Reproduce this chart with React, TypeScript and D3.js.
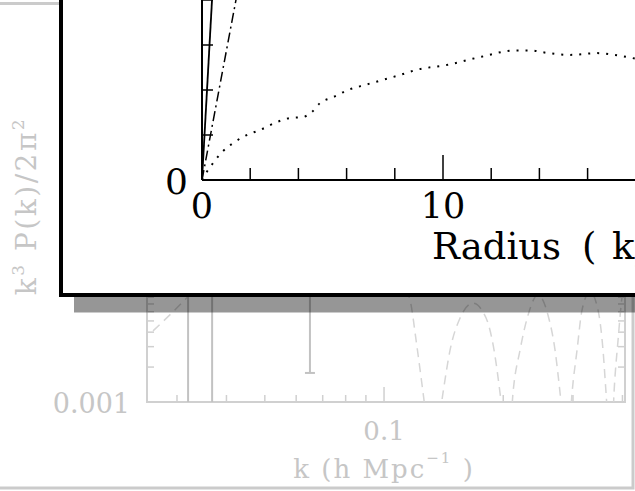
import React from 'react';
import * as d3 from 'd3';

const W = 635;
const H = 491;

// ---- background panel: power spectrum (log-log) ----
const kDomain = [0.0252, 0.406];
const pDomain = [0.001, 1];
const kMinorTicks = [0.03, 0.04, 0.05, 0.06, 0.07, 0.08, 0.09, 0.2, 0.3, 0.4];
const kMajorTicks = [0.1];
const kTickLabels = ['0.1'];
const pMinorTicks = [0.002, 0.003, 0.004, 0.005, 0.006, 0.007, 0.008, 0.009];
const pTickLabels = ['0.001'];
const modelK = [0.0261, 0.0314, 0.0343, 0.045, 0.06, 0.08, 0.1, 0.113, 0.1163, 0.1205, 0.1233, 0.1255, 0.133, 0.1409, 0.1468, 0.1556, 0.1677, 0.181, 0.1896, 0.1963, 0.2056, 0.2117, 0.2205, 0.231, 0.2448, 0.2595, 0.2703, 0.2783, 0.2898, 0.2984, 0.3072, 0.3162, 0.3313, 0.3471, 0.3573, 0.3636, 0.3743, 0.3809, 0.3899, 0.399, 0.4084];
const modelP = [0.0041, 0.0076, 0.0105, 0.02, 0.03, 0.03, 0.018, 0.0092, 0.0076, 0.0034, 0.0019, 0.0012, 0.0003, 0.0012, 0.0028, 0.0053, 0.0071, 0.0053, 0.0028, 0.0012, 0.0003, 0.0012, 0.0028, 0.0056, 0.0084, 0.0056, 0.0028, 0.0012, 0.0003, 0.0012, 0.0028, 0.0062, 0.0089, 0.0062, 0.0028, 0.0012, 0.0003, 0.0012, 0.0034, 0.008, 0.0113];
const limitK = [0.032, 0.0368];
const errK = [0.065];
const errLow = [0.00178];

// ---- inset: rotation curve ----
const radiusDomain = [0, 20];
const velDomain = [0, 200];
const radiusTicks = [0, 2, 4, 6, 8, 10, 12, 14, 16, 18, 20];
const radiusMajor = [0, 10, 20];
const radiusLabels = [0, 10];
const velTicks = [50, 100, 150, 200];
const dotR = [0, 0.12, 0.46, 0.83, 1.29, 1.78, 2.41, 3.11, 3.65, 4.19, 4.56, 4.9, 5.44, 6.06, 6.76, 7.47, 8.22, 8.84, 10.2, 11.6, 13.0, 13.6, 14.36, 15.27, 16.4, 17.1, 17.84, 18.6];
const dotV = [0, 5.6, 18.9, 31, 41, 49, 55.6, 64.4, 68.9, 70, 75.6, 85.6, 92, 100, 105.6, 111, 116.7, 122, 128, 137, 144, 144, 141, 139, 141, 139, 135.6, 131];
const solidR = [0, 0.457];
const solidV = [0, 220];
const dashDotR = [0, 1.55];
const dashDotV = [0, 220];

const SERIF = "'DejaVu Serif', serif";
const BG_AXIS = '#d0d0d0';
const BG_TEXT = '#c6c6c6';
const BG_LINE = '#c2c2c2';
const BG_DASH = '#d6d6d6';

export default function App() {
  const xB = d3.scaleLog().domain(kDomain).range([147, 625]);
  const yB = d3.scaleLog().domain(pDomain).range([402, 54]);
  const xI = d3.scaleLinear().domain(radiusDomain).range([202, 684]);
  const yI = d3.scaleLinear().domain(velDomain).range([180, 0]);

  const modelPath = d3
    .line<number>()
    .x((_, i) => xB(modelK[i]))
    .y((_, i) => yB(modelP[i]))
    .curve(d3.curveMonotoneX)(modelK) as string;

  const insetLine = (rs: number[], vs: number[], curve = d3.curveLinear) =>
    d3
      .line<number>()
      .x((_, i) => xI(rs[i]))
      .y((_, i) => yI(vs[i]))
      .curve(curve)(rs) as string;

  const bx0 = xB(kDomain[0]);
  const bx1 = xB(kDomain[1]);
  const by0 = yB(pDomain[0]);
  const by1 = yB(pDomain[1]);

  return (
    <svg
      width={W}
      height={H}
      style={{ position: 'absolute', left: 0, top: 0, display: 'block', background: '#fff' }}
    >
      <defs>
        <clipPath id="bgclip">
          <rect x={bx0} y={by1} width={bx1 - bx0} height={by0 - by1} />
        </clipPath>
      </defs>

      {/* outer slide frame */}
      <rect x={-20} y={3.5} width={653} height={484.5} fill="none" stroke="#cbcbcb" strokeWidth={3} />

      {/* background panel */}
      <g>
        <rect x={bx0} y={by1} width={bx1 - bx0} height={by0 - by1} fill="none" stroke={BG_AXIS} strokeWidth={2} />
        {kMinorTicks.map((k) => (
          <line key={'kt' + k} x1={xB(k)} x2={xB(k)} y1={by0} y2={by0 - 7} stroke={BG_AXIS} strokeWidth={1.5} />
        ))}
        {kMajorTicks.map((k) => (
          <line key={'kM' + k} x1={xB(k)} x2={xB(k)} y1={by0} y2={by0 - 15} stroke={BG_AXIS} strokeWidth={1.5} />
        ))}
        {pMinorTicks.map((p) => (
          <g key={'pt' + p}>
            <line x1={bx0} x2={bx0 + 7} y1={yB(p)} y2={yB(p)} stroke={BG_AXIS} strokeWidth={1.5} />
            <line x1={bx1} x2={bx1 - 7} y1={yB(p)} y2={yB(p)} stroke={BG_AXIS} strokeWidth={1.5} />
          </g>
        ))}
        <g clipPath="url(#bgclip)">
          <path d={modelPath} fill="none" stroke={BG_DASH} strokeWidth={1.5} strokeDasharray="9,6" />
          {limitK.map((k) => (
            <line key={'lim' + k} x1={xB(k)} x2={xB(k)} y1={by1} y2={by0} stroke={BG_LINE} strokeWidth={2} />
          ))}
          {errK.map((k, i) => (
            <g key={'err' + k}>
              <line x1={xB(k)} x2={xB(k)} y1={by1} y2={yB(errLow[i])} stroke={BG_LINE} strokeWidth={2} />
              <line x1={xB(k) - 5} x2={xB(k) + 5} y1={yB(errLow[i])} y2={yB(errLow[i])} stroke={BG_LINE} strokeWidth={2} />
            </g>
          ))}
        </g>
        {kMajorTicks.map((k, i) => (
          <text key={'kl' + k} x={xB(k)} y={440} textAnchor="middle" fontFamily={SERIF} fontSize={26} fill={BG_TEXT}>
            {kTickLabels[i]}
          </text>
        ))}
        <text x={bx0 - 17} y={413} textAnchor="end" fontFamily={SERIF} fontSize={27} fill={BG_TEXT}>
          {pTickLabels[0]}
        </text>
        <text x={xB(0.1)} y={478} textAnchor="middle" fontFamily={SERIF} fontSize={26} fill={BG_TEXT} letterSpacing={2}>
          k (h Mpc
          <tspan fontSize={15} dy={-15}>−1</tspan>
          <tspan dy={15}> )</tspan>
        </text>
        <text
          transform="translate(36,206) rotate(-90)"
          textAnchor="middle"
          fontFamily={SERIF}
          fontSize={28}
          fill={BG_TEXT}
          letterSpacing={2.5}
        >
          k<tspan fontSize={17} dy={-12}>3</tspan>
          <tspan dy={12}> P(k)/2π</tspan>
          <tspan fontSize={17} dy={-12}>2</tspan>
        </text>
      </g>

      {/* drop shadow of inset */}
      <rect x={74} y={-100} width={700} height={412.5} fill="#000" fillOpacity={0.41} />

      {/* inset panel */}
      <rect x={61} y={-100} width={700} height={395} fill="#fff" stroke="#000" strokeWidth={4} />
      <g>
        <line x1={xI(0)} x2={700} y1={yI(0)} y2={yI(0)} stroke="#000" strokeWidth={2} />
        <line x1={xI(0)} x2={xI(0)} y1={yI(0)} y2={-5} stroke="#000" strokeWidth={2} />
        {radiusTicks.map((r) => (
          <line
            key={'rt' + r}
            x1={xI(r)}
            x2={xI(r)}
            y1={yI(0)}
            y2={yI(0) - (radiusMajor.includes(r) ? 25 : 12)}
            stroke="#000"
            strokeWidth={1.5}
          />
        ))}
        {velTicks.map((v) => (
          <line key={'vt' + v} x1={xI(0)} x2={xI(0) + 11} y1={yI(v)} y2={yI(v)} stroke="#000" strokeWidth={1.5} />
        ))}
        {radiusLabels.map((r) => (
          <text key={'rl' + r} x={xI(r)} y={218} textAnchor="middle" fontFamily={SERIF} fontSize={35} fill="#000">
            {r}
          </text>
        ))}
        <text x={188} y={194} textAnchor="end" fontFamily={SERIF} fontSize={36} fill="#000">
          0
        </text>
        <text x={432} y={259} fontFamily={SERIF} fontSize={37} fill="#000">
          Radius<tspan x={582}>(</tspan>
          <tspan x={612}>kpc)</tspan>
        </text>
        <path d={insetLine(solidR, solidV)} fill="none" stroke="#000" strokeWidth={1.8} />
        <path d={insetLine(dashDotR, dashDotV)} fill="none" stroke="#000" strokeWidth={1.5} strokeDasharray="10,4,2,4" />
        <path
          d={insetLine(dotR, dotV, d3.curveMonotoneX)}
          fill="none"
          stroke="#000"
          strokeWidth={2}
          strokeDasharray="2,7"
        />
      </g>
    </svg>
  );
}
